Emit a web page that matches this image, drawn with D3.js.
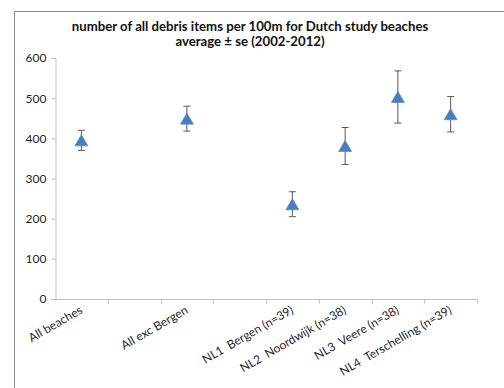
<!DOCTYPE html>
<html>
<head>
<meta charset="utf-8">
<script src="https://cdn.jsdelivr.net/npm/d3@7/dist/d3.min.js"></script>
<style>
  html, body { margin: 0; padding: 0; background: #fff; }
  svg { display: block; font-family: Lato, "Open Sans", sans-serif; }
</style>
</head>
<body>
<svg id="chart" width="504" height="388"></svg>
<script>
// Beach litter counts per 100 m, mean ± standard error, 2002-2012.
// Blank categories keep the empty slots on the category axis.
const categories = ["All beaches", "", "All exc Bergen", "", "NL1  Bergen (n=39)", "NL2  Noordwijk (n=38)", "NL3  Veere (n=38)", "NL4  Terschelling (n=39)"];
const means = [395, null, 449, null, 236, 381, 503, 460];
const stdErr = [25, null, 31, null, 31, 46, 65, 44];
const yTicks = [0, 100, 200, 300, 400, 500, 600];
const titleLines = ["number of all debris items per 100m for Dutch study beaches", "average ± se (2002-2012)"];

const svg = d3.select("#chart");
const W = 504, H = 388;
const plot = { left: 55, right: 477, top: 58, bottom: 299 };

// outer chart frame (runs off the right and bottom edges)
svg.append("rect")
  .attr("x", 14.5).attr("y", 11.5)
  .attr("width", W).attr("height", H)
  .attr("fill", "#fff").attr("stroke", "#8c8c8c").attr("stroke-width", 1);

// title
svg.append("g").selectAll("text").data(titleLines).join("text")
  .attr("x", 250).attr("y", (d, i) => 31 + i * 14.5)
  .attr("text-anchor", "middle")
  .attr("font-size", 13.2).attr("font-weight", "bold").attr("fill", "#111")
  .text(d => d);

const x = d3.scaleBand().domain(d3.range(categories.length)).range([plot.left, plot.right]);
const y = d3.scaleLinear().domain([0, 600]).range([plot.bottom, plot.top]);

// y axis
const yAxis = svg.append("g")
  .attr("transform", `translate(${plot.left + 0.5},0)`)
  .call(d3.axisLeft(y).tickValues(yTicks).tickSize(4).tickPadding(5));
yAxis.select(".domain").attr("stroke", "#bfbfbf");
yAxis.selectAll(".tick line").attr("stroke", "#bfbfbf");
yAxis.selectAll(".tick text").attr("font-size", 12).attr("fill", "#1f1f1f").attr("font-family", "Lato, sans-serif");

// x axis: ticks on band boundaries, labels rotated under each category centre
const xg = svg.append("g").attr("transform", `translate(0,${plot.bottom + 0.5})`);
xg.append("line")
  .attr("x1", plot.left).attr("x2", plot.right)
  .attr("stroke", "#bfbfbf");
const bounds = d3.range(categories.length + 1).map(i => i < categories.length ? x(i) : x(i - 1) + x.bandwidth());
xg.selectAll("line.tick").data(bounds.slice(1)).join("line")
  .attr("class", "tick")
  .attr("x1", d => Math.round(d) + 0.5).attr("x2", d => Math.round(d) + 0.5)
  .attr("y1", 0).attr("y2", 4)
  .attr("stroke", "#bfbfbf");
xg.selectAll("text").data(categories.map((c, i) => ({ c, i })).filter(d => d.c)).join("text")
  .attr("transform", d => `translate(${x(d.i) + x.bandwidth() / 2 + 2},13) rotate(-30)`)
  .attr("text-anchor", "end")
  .attr("font-size", 12).attr("fill", "#1f1f1f")
  .style("white-space", "pre")
  .text(d => d.c);

// error bars and markers
const pts = means.map((m, i) => ({ i, m, se: stdErr[i] })).filter(d => d.m != null);
const cx = d => x(d.i) + x.bandwidth() / 2;
const eb = svg.append("g").attr("stroke", "#595959").attr("stroke-width", 1);
eb.selectAll("line.v").data(pts).join("line")
  .attr("x1", cx).attr("x2", cx)
  .attr("y1", d => y(d.m + d.se)).attr("y2", d => y(d.m - d.se));
eb.selectAll("line.top").data(pts).join("line")
  .attr("x1", d => cx(d) - 3.5).attr("x2", d => cx(d) + 3.5)
  .attr("y1", d => y(d.m + d.se)).attr("y2", d => y(d.m + d.se));
eb.selectAll("line.bot").data(pts).join("line")
  .attr("x1", d => cx(d) - 3.5).attr("x2", d => cx(d) + 3.5)
  .attr("y1", d => y(d.m - d.se)).attr("y2", d => y(d.m - d.se));

// triangle markers centred on their bounding box
const tri = (w, h) => `M0,${-h / 2}L${w / 2},${h / 2}L${-w / 2},${h / 2}Z`;
svg.append("g").selectAll("path").data(pts).join("path")
  .attr("transform", d => `translate(${cx(d)},${y(d.m)})`)
  .attr("d", tri(13, 11))
  .attr("fill", "#4a7ebb").attr("stroke", "#5b8cc6").attr("stroke-width", 0.8);
</script>
</body>
</html>
